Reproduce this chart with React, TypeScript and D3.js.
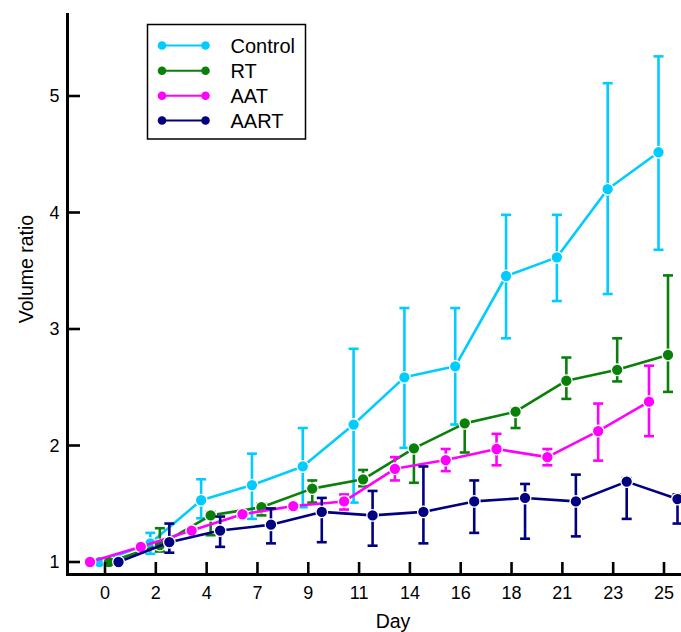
import React from "react";
import * as d3 from "d3";

const days = ["0", "2", "4", "7", "9", "11", "14", "16", "18", "21", "23", "25"];
const seriesNames = ["Control", "RT", "AAT", "AART"];
const dodgeOrder = ["AAT", "Control", "RT", "AART"];
const colors = ["#00CCFF", "#0A800A", "#FF00FF", "#000080"];

const control = [1.0, 1.16, 1.53, 1.66, 1.82, 2.18, 2.585, 2.68, 3.455, 3.615, 4.2, 4.517];
const controlHi = [1.0, 1.25, 1.71, 1.93, 2.15, 2.83, 3.18, 3.18, 3.98, 3.98, 5.11, 5.34];
const controlLo = [1.0, 1.07, 1.375, 1.37, 1.47, 1.51, 1.98, 2.18, 2.92, 3.24, 3.3, 3.68];

const rt = [1.0, 1.146, 1.4, 1.47, 1.63, 1.71, 1.976, 2.19, 2.29, 2.556, 2.65, 2.777];
const rtHi = [1.0, 1.29, 1.43, 1.5, 1.7, 1.79, 2.0, 2.2, 2.32, 2.755, 2.92, 3.46];
const rtLo = [1.0, 1.09, 1.23, 1.4, 1.51, 1.65, 1.68, 1.94, 2.15, 2.4, 2.55, 2.46];

const aat = [1.0, 1.13, 1.27, 1.41, 1.48, 1.52, 1.8, 1.875, 1.97, 1.9, 2.124, 2.376];
const aatHi = [1.0, 1.15, 1.29, 1.44, 1.5, 1.58, 1.9, 1.97, 2.1, 1.97, 2.36, 2.685];
const aatLo = [1.0, 1.11, 1.25, 1.38, 1.45, 1.45, 1.7, 1.78, 1.83, 1.83, 1.87, 2.08];

const aart = [1.0, 1.17, 1.27, 1.32, 1.43, 1.4, 1.43, 1.52, 1.55, 1.52, 1.69, 1.54];
const aartHi = [1.0, 1.33, 1.39, 1.46, 1.55, 1.61, 1.82, 1.7, 1.67, 1.75, 1.72, 1.58];
const aartLo = [1.0, 1.08, 1.13, 1.16, 1.17, 1.14, 1.16, 1.25, 1.2, 1.22, 1.37, 1.33];

const yTicks = [1, 2, 3, 4, 5];

const seriesValues = [control, rt, aat, aart];
const seriesHi = [controlHi, rtHi, aatHi, aartHi];
const seriesLo = [controlLo, rtLo, aatLo, aartLo];

const W = 681;
const H = 632;
const FONT = "'Liberation Sans', Arial, sans-serif";

export default function App() {
  const axisX = 67.5;
  const axisY = 574.5;
  const x = d3.scalePoint<string>().domain(days).range([105, 664]);
  const dodge = d3.scalePoint<string>().domain(dodgeOrder).range([-15, 13.5]);
  const y = d3.scaleLinear().domain([1, 5]).range([562, 96]);
  const yTop = 13;

  const series = seriesNames.map((name, si) => ({
    name,
    color: colors[si],
    pts: days.map((d, i) => ({
      x: (x(d) as number) + (dodge(name) as number),
      v: seriesValues[si][i],
      hi: seriesHi[si][i],
      lo: seriesLo[si][i],
    })),
  }));

  const line = d3
    .line<{ x: number; v: number }>()
    .x((p) => p.x)
    .y((p) => y(p.v));

  const legX = 147.5;
  const legY = 24.5;
  const legRows = [45.5, 70.7, 95.7, 120.5];

  return (
    <svg
      width={W}
      height={H}
      style={{ position: "absolute", left: 0, top: 0, background: "#fff" }}
      fontFamily={FONT}
    >
      <rect x={0} y={0} width={W} height={H} fill="#fff" />
      {/* series */}
      {series.map((s) => (
        <g key={s.name}>
          {s.pts.map((p, i) =>
            p.hi - p.lo > 0.02 ? (
              <g key={i} stroke={s.color} strokeWidth={2.6} fill="none">
                <line x1={p.x} x2={p.x} y1={y(p.hi)} y2={y(p.lo)} />
                <line x1={p.x - 5} x2={p.x + 5} y1={y(p.hi)} y2={y(p.hi)} />
                <line x1={p.x - 5} x2={p.x + 5} y1={y(p.lo)} y2={y(p.lo)} />
              </g>
            ) : null
          )}
          <path d={line(s.pts) || ""} fill="none" stroke={s.color} strokeWidth={2.6} strokeLinejoin="round" />
          {s.pts.map((p, i) => (
            <circle key={i} cx={p.x} cy={y(p.v)} r={5.8} fill={s.color} stroke="#fff" strokeWidth={1.3} />
          ))}
        </g>
      ))}

      {/* axes */}
      <line x1={axisX} x2={axisX} y1={yTop} y2={axisY + 1.5} stroke="#000" strokeWidth={3} />
      <line x1={axisX - 1.5} x2={W} y1={axisY} y2={axisY} stroke="#000" strokeWidth={3} />
      {yTicks.map((t) => (
        <g key={t}>
          <line x1={axisX} x2={80} y1={y(t)} y2={y(t)} stroke="#000" strokeWidth={2.6} />
          <text x={59.5} y={y(t)} dy="0.35em" textAnchor="end" fontSize={18} fill="#000">
            {t}
          </text>
        </g>
      ))}
      {days.map((d) => (
        <g key={d}>
          <line x1={x(d)} x2={x(d)} y1={axisY} y2={562} stroke="#000" strokeWidth={2.6} />
          <text x={x(d)} y={599} textAnchor="middle" fontSize={18} fill="#000">
            {d}
          </text>
        </g>
      ))}
      <text
        transform={`translate(32.5, 269) rotate(-90)`}
        textAnchor="middle"
        fontSize={19.5}
        fill="#000"
      >
        Volume ratio
      </text>
      <text x={393} y={628} textAnchor="middle" fontSize={19.5} fill="#000">
        Day
      </text>

      {/* legend */}
      <rect x={legX} y={legY} width={158} height={114.5} fill="#fff" stroke="#000" strokeWidth={1.5} />
      {series.map((s, i) => (
        <g key={s.name}>
          <line x1={162} x2={205.5} y1={legRows[i]} y2={legRows[i]} stroke={s.color} strokeWidth={2} />
          <circle cx={162} cy={legRows[i]} r={4.3} fill={s.color} />
          <circle cx={205.5} cy={legRows[i]} r={4.3} fill={s.color} />
          <text x={230.5} y={legRows[i]} dy="0.36em" fontSize={20} fill="#000">
            {s.name}
          </text>
        </g>
      ))}
    </svg>
  );
}
